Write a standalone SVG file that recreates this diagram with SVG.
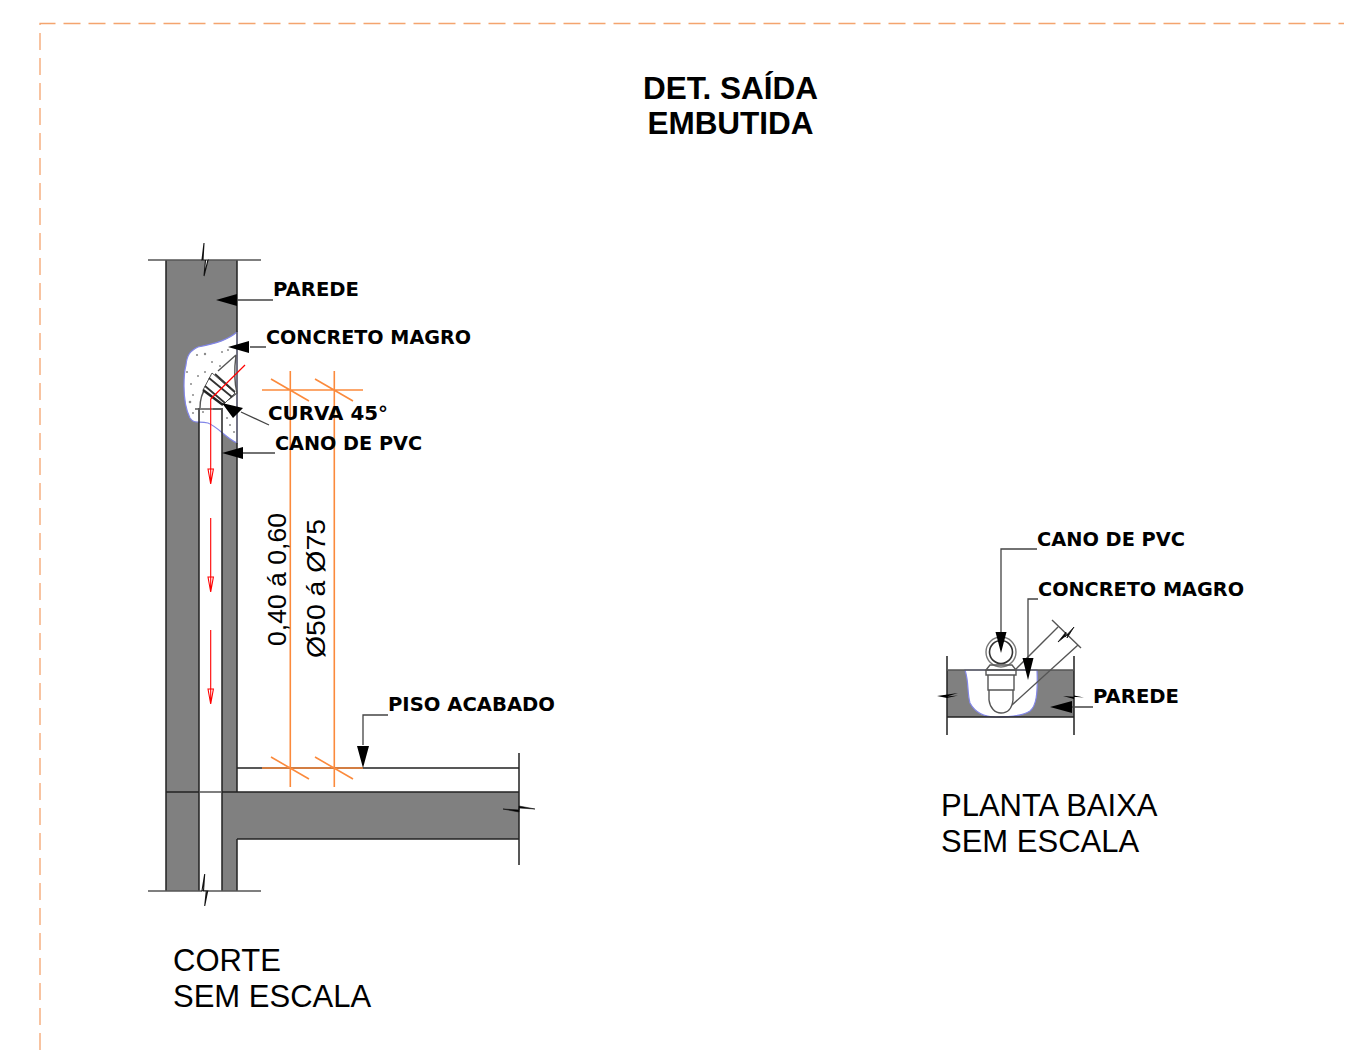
<svg xmlns="http://www.w3.org/2000/svg" width="1348" height="1056" viewBox="0 0 1348 1056">
<style>
.t{font-family:"Liberation Sans",Arial,sans-serif;fill:#000}
.h{font-size:31.500px;font-weight:700;text-anchor:middle}
.c{font-size:31px}
.d{font-size:26.500px}
.l{font-family:"DejaVu Sans",sans-serif;font-weight:700;font-size:19.600px;fill:#000}
.k{fill:none;stroke:#222;stroke-width:1.500}
.g{fill:none;stroke:#555;stroke-width:1.400}
.o{fill:none;stroke:#fb8a3c;stroke-width:1.600}
.r{fill:none;stroke:#f00;stroke-width:1.200}
.w{fill:#808080}
.a{fill:#000}
.ac{fill:#fff;stroke:#111;stroke-width:1.100}
.p{fill:none;stroke:#444;stroke-width:1.300}
</style>
<rect width="1348" height="1056" fill="#fff"/>
<path id="frame" d="M40 1050V23.500H1344" fill="none" stroke="#f4a46e" stroke-width="1.300" stroke-dasharray="17 8"/>
<g id="title"><text class="t h" x="730.500" y="99">DET. SAÍDA</text><text class="t h" x="730.500" y="134">EMBUTIDA</text></g>
<g id="corte-section">
<rect class="w" x="166" y="260" width="71" height="631"/>
<rect x="199" y="408" width="23" height="483" fill="#fff"/>
<path class="w" d="M222 792H519V839H237V891H222Z"/>
<path d="M237 332C228 340 215 344 198 347C190 351 187 355 186 365C184 372 184 380 184 386C184 398 186 410 190 418C194 424 198 421 208 423C218 427 226 438 237 443Z" fill="#fff" stroke="#8286e8" stroke-width="1.200"/>
<g fill="#8a8a8a"><circle cx="197" cy="355" r="1.100"/><circle cx="205" cy="354" r="1.200"/><circle cx="222" cy="352" r="1"/><circle cx="212" cy="362" r="1"/><circle cx="220" cy="366" r="1"/><circle cx="191" cy="384" r="1"/><circle cx="198" cy="376" r="1"/><circle cx="190" cy="402" r="1.300"/><circle cx="205" cy="372" r="1"/><circle cx="193" cy="413" r="1"/><circle cx="230" cy="425" r="1"/><circle cx="234" cy="432" r="1"/><circle cx="228" cy="350" r="1"/><circle cx="187" cy="372" r="1"/><circle cx="193" cy="395" r="1"/><circle cx="203" cy="412" r="1"/><circle cx="227" cy="418" r="1"/></g>
<path class="k" d="M166 260V891M237 260V332M237 443V792M237 839V891M199 408V891M222 408V891M166 792H199M222 792H519M237 839H519M237 768H519M519 753V865"/>
<path class="g" d="M148 260H202M208 260H261M148 891H202M208 891H261M199 792H222M195 409H222M237 332V443"/>
<path class="ac" d="M204 243L202 260L208 260L204 276L205.500 260L203 260ZM204.700 874L202 890.700L207.700 890.700L204.700 906L206.300 891L203.500 891Z"/>
<path d="M503 809L519 812L519 806L535 809L519 808L519 810Z" fill="#000" stroke="#111" stroke-width=".6"/>
<g id="pipe-fitting">
<path d="M200 408C200 400 201 394 206 388M213 409H222" class="g"/>
<path class="g" d="M236 355L218 371M236 355C234 370 235 385 237 393L228 400"/>
<path d="M212 373L235 393L223 405L203 390Z" fill="#fff" stroke="#555" stroke-width="1"/>
<path d="M209 378L232 397M215 374L235 392M205 386L225 403" stroke="#333" stroke-width="1.800" fill="none"/>
<path d="M203 390L223 405" stroke="#222" stroke-width="2.500" fill="none"/>
<path d="M210.700 399L245 365" class="r"/>
</g>
<g id="flow-arrows" fill="none" stroke="#f00" stroke-width="1.100">
<path d="M210.700 399V484M208 469L210.700 484L213.400 469ZM210.700 518V592M208 577L210.700 592L213.400 577ZM210.700 630V704M208 689L210.700 704L213.400 689Z"/>
</g>
<path class="o" d="M262 390H363M290.300 371V787M334.300 371V787M271 379L309 401M315 379L353 401M262 768H363M271 757L309 779M315 757L353 779"/>
<text class="t d" transform="translate(286 646) rotate(-90)" textLength="133" lengthAdjust="spacingAndGlyphs">0,40 á 0,60</text>
<text class="t d" transform="translate(325 658) rotate(-90)" textLength="139" lengthAdjust="spacingAndGlyphs">Ø50 á Ø75</text>
</g>
<g id="corte-labels">
<path class="p" d="M236 300H273M250 347H266M241 412L269 425M236 453H275M363 745V715H388"/>
<path class="a" d="M216 300L237 294V306ZM228 347L249 341V353ZM222 403L243 408L233 418ZM222 453L243 447V459ZM363 768L357 746H369Z"/>
<text class="l" x="273" y="296" textLength="86" lengthAdjust="spacingAndGlyphs">PAREDE</text>
<text class="l" x="266" y="344" textLength="205" lengthAdjust="spacingAndGlyphs">CONCRETO MAGRO</text>
<text class="l" x="268" y="420" textLength="120" lengthAdjust="spacingAndGlyphs">CURVA 45°</text>
<text class="l" x="275" y="450" textLength="147" lengthAdjust="spacingAndGlyphs">CANO DE PVC</text>
<text class="l" x="388" y="711" textLength="167" lengthAdjust="spacingAndGlyphs">PISO ACABADO</text>
</g>
<g id="corte-caption"><text class="t c" x="173" y="971">CORTE</text><text class="t c" x="173" y="1007">SEM ESCALA</text></g>
<g id="planta-section">
<rect class="w" x="947" y="670" width="127" height="47"/>
<path d="M965 670C969 682 967 692 970 703C976 714 986 717 996 717C1012 717 1024 715 1030 711C1036 706 1038 695 1037 670Z" fill="#fff" stroke="#8286e8" stroke-width="1.200"/>
<path class="k" d="M947 656V735M1074 656V735M947 717H1074"/>
<path class="g" d="M947 670H1074"/>
<path d="M937 696L958 693L947 696.500L958 695.500L947 698ZM1063 696L1084 697.500L1074 695.500L1074 699Z" fill="#000"/>
<circle cx="1001" cy="652" r="11.500" fill="#fff" stroke="#333" stroke-width="1.600"/>
<circle cx="1001" cy="652" r="15" fill="none" stroke="#777" stroke-width="1.400"/>
<path class="g" d="M990 665H1012L1016 670H986ZM986 670H1016V675H986ZM988 675V690H1014V675M989 690V700C990 708 995 713 1001 713C1008 713 1012 708 1013 700V690M1015 670L1058 627M1012 705L1078 645M1052 620L1081 648"/>
<path d="M1058 642L1066 632L1065 637L1074 627L1067 638L1068 634Z" fill="#000" stroke="#111" stroke-width=".8"/>
</g>
<g id="planta-labels">
<path class="p" d="M1001 634V549H1037M1028 658V599H1038M1064 707H1093"/>
<path class="a" d="M1001 653L995.500 632H1006.500ZM1028 680L1022.500 658H1033.500ZM1050 707L1072 701V713Z"/>
<text class="l" x="1037" y="546" textLength="148" lengthAdjust="spacingAndGlyphs">CANO DE PVC</text>
<text class="l" x="1038" y="596" textLength="206" lengthAdjust="spacingAndGlyphs">CONCRETO MAGRO</text>
<text class="l" x="1093" y="703" textLength="86" lengthAdjust="spacingAndGlyphs">PAREDE</text>
</g>
<g id="planta-caption"><text class="t c" x="941" y="816">PLANTA BAIXA</text><text class="t c" x="941" y="852">SEM ESCALA</text></g>
</svg>
